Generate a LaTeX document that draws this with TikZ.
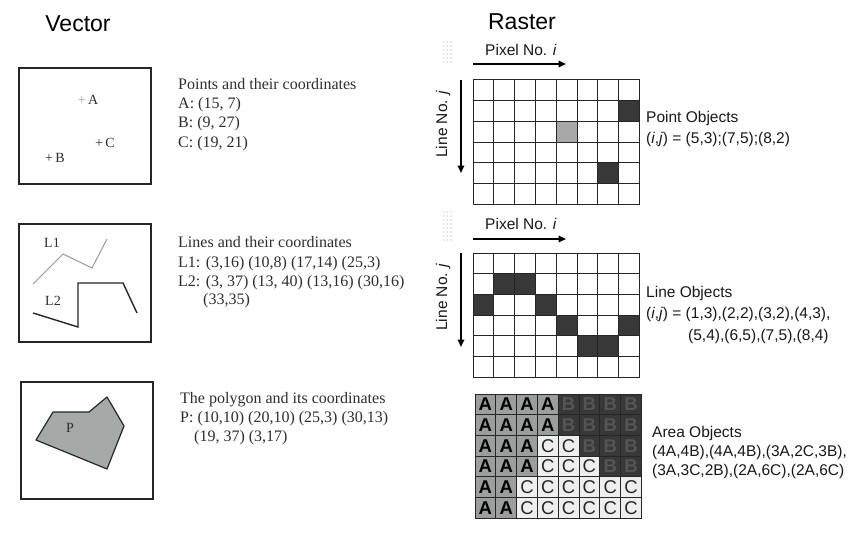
\documentclass[tikz,border=0pt]{standalone}
\usepackage{fontspec}
\setmainfont{Liberation Serif}
\setsansfont{Liberation Sans}
\usetikzlibrary{arrows.meta}
\definecolor{cellA}{HTML}{9A9E9C}
\definecolor{cellB}{HTML}{383838}
\definecolor{cellBtxt}{HTML}{555555}
\definecolor{cellC}{HTML}{EEEEEE}
\definecolor{polyfill}{HTML}{A3AAA7}
\definecolor{ptgray}{HTML}{A8A8A8}
\definecolor{txtgray}{HTML}{2E2E2E}
\definecolor{dotgray}{HTML}{D8D8D8}
\tikzset{
  title/.style={font=\sffamily\fontsize{23}{28}\selectfont, anchor=base, inner sep=0pt},
  serif/.style={font=\fontsize{16}{19}\selectfont, anchor=base west, inner sep=0pt, text=txtgray},
  boxlabel/.style={font=\fontsize{14}{16}\selectfont, anchor=base, inner sep=0pt, text=txtgray},
  sans/.style={font=\sffamily\fontsize{15.5}{18}\selectfont, anchor=base west, inner sep=0pt, text=black!90},
  axislabel/.style={font=\sffamily\fontsize{15.5}{18}\selectfont, inner sep=0pt, text=black!90},
  vbox/.style={draw=black!85, line width=1.3pt},
  axisarrow/.style={line width=1.8pt, -{Triangle[length=7.5pt,width=6.5pt]}},
  pcell/.style={draw=black!85, line width=1pt, minimum width=20.8pt, minimum height=20.7pt, inner sep=0pt, outer sep=0pt},
  acell/.style={pcell, font=\sffamily\fontsize{18.5}{18.5}\selectfont},
  areaA/.style={fill=cellA, text=black, font=\sffamily\bfseries\fontsize{18.5}{18.5}\selectfont},
  areaB/.style={fill=cellB, text=cellBtxt, font=\sffamily\bfseries\fontsize{18.5}{18.5}\selectfont},
  areaC/.style={fill=cellC, text=black!85},
  dots/.style={fill=dotgray}
}
\begin{document}
\begin{tikzpicture}[x=1pt,y=-1pt]
\useasboundingbox (0,0) rectangle (850,532);
\fill[white] (0,0) rectangle (850,532);

% Titles
\node[title] (tvec) at (78,32) {Vector};
\node[title] (tras) at (522,30) {Raster};

% ---------- Vector: points ----------
\draw[vbox] (19,68) rectangle (151,184);
\node[boxlabel] (pa) at (88,104) {{\color{ptgray}+}\,A};
\node[boxlabel] (pc) at (105,147) {+\,C};
\node[boxlabel] (pb) at (55,162) {+\,B};
\node[serif] (pt1) at (178,89.5) {Points and their coordinates};
\node[serif] (pt2) at (178,108.5) {A: (15, 7)};
\node[serif] (pt3) at (178,128) {B: (9, 27)};
\node[serif] (pt4) at (178,147.5) {C: (19, 21)};

% ---------- Vector: lines ----------
\draw[vbox] (19,224) rectangle (151,342);
\node[boxlabel] (l1) at (52,247) {L1};
\node[boxlabel] (l2) at (53,305) {L2};
\draw[gray!80, line width=1pt] (33,284) -- (63,254) -- (92,268) -- (107,239);
\draw[black!85, line width=1.4pt] (33,313) -- (78,327) -- (78,283) -- (123,283) -- (137,313);
\node[serif] (ln1) at (178,247.5) {Lines and their coordinates};
\node[serif] (ln2) at (178,267) {L1: (3,16) (10,8) (17,14) (25,3)};
\node[serif] (ln3) at (178,286) {L2: (3, 37) (13, 40) (13,16) (30,16)};
\node[serif] (ln4) at (203,304.5) {(33,35)};

% ---------- Vector: polygon ----------
\draw[vbox] (21,382) rectangle (153,499);
\draw[fill=polyfill, draw=black!85, line width=1.2pt, line join=round] (36,440) -- (53,412) -- (89,412) -- (107,397) -- (124,426) -- (107,469) -- cycle;
\node[boxlabel] (plab) at (70,432) {P};
\node[serif] (pg1) at (180,403.5) {The polygon and its coordinates};
\node[serif] (pg2) at (180,422.5) {P: (10,10) (20,10) (25,3) (30,13)};
\node[serif] (pg3) at (194,441.5) {(19, 37) (3,17)};

% ---------- Raster: point objects ----------
\foreach \x in {0,3.5,7} \foreach \y in {0,4,8,12,16,20} \fill[dots] (444+\x,42+\y) circle (0.8pt);
\coordinate (pxa1) at (473,64);
\coordinate (pxb1) at (566,64);
\draw[axisarrow] (pxa1) -- (pxb1);
\node[axislabel] (pxl1) at (521,50) {Pixel No. \textit{i}};
\coordinate (lna1) at (461,80);
\coordinate (lnb1) at (461,173);
\draw[axisarrow] (lna1) -- (lnb1);
\node[axislabel, rotate=90] (lnl1) at (443,124) {Line No. \textit{j}};
\foreach \i in {1,...,8} \foreach \j in {1,...,6}
  \node[pcell, fill=white] (g1-\i-\j) at ({473+(\i-0.5)*20.8},{80+(\j-0.5)*20.7}) {};
\node[pcell, fill=cellB] (g1d-8-2) at ({473+7.5*20.8},{80+1.5*20.7}) {};
\node[pcell, fill=ptgray] (g1d-5-3) at ({473+4.5*20.8},{80+2.5*20.7}) {};
\node[pcell, fill=cellB] (g1d-7-5) at ({473+6.5*20.8},{80+4.5*20.7}) {};
\node[sans] (po1) at (646,122.5) {Point Objects};
\node[sans] (po2) at (646,143.5) {(\textit{i},\textit{j}) = (5,3);(7,5);(8,2)};

% ---------- Raster: line objects ----------
\foreach \x in {0,3.5,7} \foreach \y in {0,4,8,12,16,20,24,28} \fill[dots] (444+\x,212+\y) circle (0.8pt);
\coordinate (pxa2) at (473,239);
\coordinate (pxb2) at (566,239);
\draw[axisarrow] (pxa2) -- (pxb2);
\node[axislabel] (pxl2) at (521,224) {Pixel No. \textit{i}};
\coordinate (lna2) at (461,253);
\coordinate (lnb2) at (461,347);
\draw[axisarrow] (lna2) -- (lnb2);
\node[axislabel, rotate=90] (lnl2) at (443,297) {Line No. \textit{j}};
\foreach \i in {1,...,8} \foreach \j in {1,...,6}
  \node[pcell, fill=white] (g2-\i-\j) at ({473+(\i-0.5)*20.8},{253+(\j-0.5)*20.7}) {};
\foreach \i/\j in {1/3,2/2,3/2,4/3,5/4,6/5,7/5,8/4}
  \node[pcell, fill=cellB] (g2d-\i-\j) at ({473+(\i-0.5)*20.8},{253+(\j-0.5)*20.7}) {};
\node[sans] (lo1) at (646,297.5) {Line Objects};
\node[sans] (lo2) at (646,318.5) {(\textit{i},\textit{j}) = (1,3),(2,2),(3,2),(4,3),};
\node[sans] (lo3) at (688,340) {(5,4),(6,5),(7,5),(8,4)};

% ---------- Raster: area objects ----------
\foreach \r/\rowlist in {1/{A,A,A,A,B,B,B,B},2/{A,A,A,A,B,B,B,B},3/{A,A,A,C,C,B,B,B},4/{A,A,A,C,C,C,B,B},5/{A,A,C,C,C,C,C,C},6/{A,A,C,C,C,C,C,C}}
  \foreach \L [count=\c] in \rowlist
    \node[acell, area\L] (g3-\c-\r) at ({475+(\c-0.5)*20.8},{394+(\r-0.5)*20.7}) {\L};
\node[sans] (ao1) at (652,437.5) {Area Objects};
\node[sans] (ao2) at (652,456.5) {(4A,4B),(4A,4B),(3A,2C,3B),};
\node[sans] (ao3) at (652,475.5) {(3A,3C,2B),(2A,6C),(2A,6C)};
\end{tikzpicture}
\end{document}
